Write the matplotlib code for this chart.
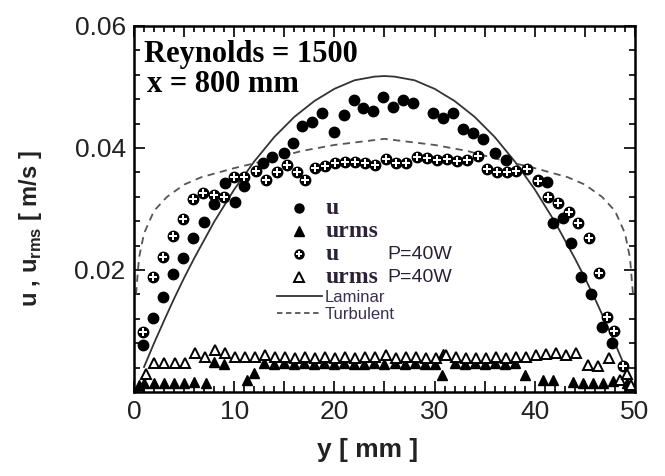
import numpy as np
import matplotlib
matplotlib.use("Agg")
import matplotlib.pyplot as plt
from matplotlib.ticker import MultipleLocator, FuncFormatter
from matplotlib.lines import Line2D
from matplotlib.legend_handler import HandlerTuple

plt.rcParams['font.family'] = ['Liberation Sans', 'DejaVu Sans']
plt.rcParams['mathtext.fontset'] = 'custom'
plt.rcParams['mathtext.bf'] = 'Liberation Sans:bold'
plt.rcParams['mathtext.rm'] = 'Liberation Sans'

# u, filled circles
u_y = [0.9, 1.9, 2.9, 3.9, 4.9, 5.9, 7.0, 8.0, 9.1, 10.1, 11.0, 12.9, 13.8, 15.0,
       15.9, 16.8, 17.8, 18.8, 20.0, 21.0, 22.0, 22.9, 23.9, 24.9, 25.8, 26.8, 27.8,
       29.8, 30.8, 31.8, 32.8, 33.8, 34.8, 36.0, 37.1, 40.3, 41.2, 41.8, 42.8, 43.6,
       44.6, 45.6, 46.7, 47.7]
u_v = [0.0077, 0.0122, 0.0156, 0.0193, 0.0219, 0.0253, 0.0279, 0.0309, 0.0343, 0.0312,
       0.0338, 0.0375, 0.0385, 0.0392, 0.0408, 0.0436, 0.0443, 0.0457, 0.0427, 0.0454,
       0.0478, 0.0465, 0.0461, 0.0484, 0.0467, 0.0478, 0.0474, 0.0457, 0.0449, 0.0457,
       0.0431, 0.0424, 0.0414, 0.0392, 0.0381, 0.0347, 0.0345, 0.0277, 0.0285, 0.0244,
       0.0189, 0.0161, 0.0107, 0.0080]

# urms, filled triangles
urms_y = [0.5, 1.0, 2.0, 3.0, 4.0, 5.0, 6.0, 7.2, 8.0, 9.0, 11.3, 12.0,
          13.0, 14.0, 15.0, 16.0, 17.0, 18.0, 19.0, 20.0, 21.0, 22.0, 23.0, 24.0,
          25.0, 26.0, 27.0, 28.0, 29.0, 30.0, 30.8, 30.7, 32.0, 33.0, 34.0, 35.0,
          36.0, 37.0, 38.0, 39.0, 40.8, 41.8, 43.8, 44.8, 45.8, 46.8, 47.8, 49.2]
urms_v = [0.0012, 0.0015, 0.0015, 0.0015, 0.0015, 0.0015, 0.0016, 0.0015, 0.0049, 0.0046,
          0.0020, 0.0031, 0.0047, 0.0046, 0.0047, 0.0046, 0.0047, 0.0046, 0.0047, 0.0046,
          0.0047, 0.0046, 0.0046, 0.0047, 0.0046, 0.0047, 0.0046, 0.0047, 0.0046, 0.0046,
          0.0062, 0.0028, 0.0047, 0.0046, 0.0047, 0.0046, 0.0047, 0.0046, 0.0047, 0.0028,
          0.0020, 0.0020, 0.0016, 0.0015, 0.0015, 0.0015, 0.0018, 0.0015]

# u with P=40W, open markers
up_y = [0.9, 1.9, 2.9, 3.9, 4.9, 5.9, 6.9, 8.0, 9.0, 10.0, 11.0, 12.2, 13.2, 14.3,
        15.3, 16.3, 17.1, 18.1, 19.1, 20.1, 21.1, 22.1, 23.1, 24.1, 25.1, 26.1, 27.1,
        28.2, 29.2, 30.2, 31.2, 32.2, 33.2, 34.3, 35.2, 36.2, 37.2, 38.1, 39.2, 40.3,
        41.3, 42.3, 43.4, 44.3, 45.4, 46.4, 47.2, 47.9, 48.8]
up_v = [0.0098, 0.0188, 0.0221, 0.0256, 0.0284, 0.0316, 0.0326, 0.0323, 0.0320, 0.0352,
        0.0352, 0.0362, 0.0348, 0.0360, 0.0372, 0.0360, 0.0348, 0.0367, 0.0371, 0.0375,
        0.0377, 0.0377, 0.0375, 0.0372, 0.0382, 0.0375, 0.0375, 0.0385, 0.0384, 0.0380,
        0.0382, 0.0379, 0.0380, 0.0387, 0.0366, 0.0360, 0.0360, 0.0362, 0.0366, 0.0346,
        0.0320, 0.0310, 0.0295, 0.0277, 0.0252, 0.0195, 0.0123, 0.0100, 0.0043]

# urms with P=40W, open triangles
urmsp_y = [1.2, 2.0, 3.0, 4.1, 5.1, 6.1, 7.1, 8.1, 9.1, 10.1, 11.1, 12.1, 13.1, 14.1,
           15.1, 16.1, 17.1, 18.1, 19.1, 20.1, 21.1, 22.1, 23.1, 24.1, 25.1, 26.1, 27.1,
           28.1, 29.1, 30.1, 31.1, 32.1, 33.1, 34.1, 35.1, 36.1, 37.1, 38.1, 39.1, 40.1,
           41.1, 42.1, 43.1, 44.1, 45.3, 46.3, 47.4, 48.5, 49.2, 49.6]
urmsp_v = [0.0030, 0.0047, 0.0047, 0.0047, 0.0047, 0.0064, 0.0057, 0.0069, 0.0064, 0.0058,
           0.0058, 0.0058, 0.0060, 0.0057, 0.0058, 0.0056, 0.0057, 0.0056, 0.0057, 0.0056,
           0.0057, 0.0056, 0.0058, 0.0057, 0.0060, 0.0056, 0.0057, 0.0058, 0.0056, 0.0055,
           0.0060, 0.0057, 0.0056, 0.0055, 0.0056, 0.0057, 0.0056, 0.0057, 0.0058, 0.0060,
           0.0062, 0.0064, 0.0061, 0.0064, 0.0045, 0.0042, 0.0056, 0.0020, 0.0030, 0.0012]

# laminar profile
lam_y = [1.0, 2.0, 3.0, 4.0, 5.0, 6.0, 8.0, 10.0, 12.0, 14.0, 16.0, 18.0, 20.0, 22.0,
         24.0, 25.0, 26.0, 28.0, 30.0, 32.0, 34.0, 36.0, 38.0, 40.0, 42.0, 44.0, 45.0,
         46.0, 47.0, 48.0, 49.0]
lam_v = [0.0041, 0.0080, 0.0117, 0.0153, 0.0187, 0.0219, 0.0279, 0.0332, 0.0378, 0.0418,
         0.0451, 0.0477, 0.0497, 0.0511, 0.0517, 0.0518, 0.0517, 0.0511, 0.0497, 0.0477,
         0.0451, 0.0418, 0.0378, 0.0332, 0.0279, 0.0219, 0.0187, 0.0153, 0.0117, 0.0080,
         0.0041]

# turbulent profile
turb_y = [0.2, 0.5, 1.0, 2.0, 3.3, 5.0, 6.7, 10.0, 13.3, 16.7, 20.0, 22.5, 25.0, 27.5,
          30.0, 33.3, 36.7, 40.0, 43.3, 45.0, 46.7, 48.0, 49.0, 49.5, 49.8]
turb_v = [0.0160, 0.0220, 0.0260, 0.0297, 0.0320, 0.0340, 0.0352, 0.0367, 0.0380, 0.0395,
          0.0405, 0.0410, 0.0415, 0.0410, 0.0405, 0.0395, 0.0380, 0.0367, 0.0352, 0.0340,
          0.0320, 0.0297, 0.0260, 0.0220, 0.0160]

fig = plt.figure(figsize=(6.65, 4.76), dpi=100)
ax = fig.add_axes([134 / 665, 1 - 392 / 476, 501 / 665, 366 / 476])

ax.plot(lam_y, lam_v, '-', color='#333333', lw=1.3, zorder=2)
ax.plot(turb_y, turb_v, '--', color='#555555', lw=1.3, dashes=(4, 3), zorder=2)

ms = 7.5
ax.plot(urms_y, urms_v, '^', color='black', ms=ms, ls='none', zorder=3)
ax.plot(urmsp_y, urmsp_v, '^', mfc='white', mec='black', mew=1.4, ms=ms, ls='none', zorder=4)
ax.plot(u_y, u_v, 'o', color='black', ms=ms, ls='none', zorder=5)
# open marker: dark ring with a white cross inside
ax.plot(up_y, up_v, 'o', color='black', ms=ms, ls='none', zorder=5)
ax.plot(up_y, up_v, 'P', color='white', mew=0, ms=ms * 0.68, ls='none', zorder=6)

ax.set_xlim(0, 50)
ax.set_ylim(0, 0.06)
ax.xaxis.set_major_locator(MultipleLocator(5))
ax.xaxis.set_minor_locator(MultipleLocator(1))
ax.yaxis.set_major_locator(MultipleLocator(0.02))
ax.yaxis.set_minor_locator(MultipleLocator(0.004))
ax.xaxis.set_major_formatter(FuncFormatter(lambda v, p: '%d' % v if v % 10 == 0 else ''))
ax.yaxis.set_major_formatter(FuncFormatter(lambda v, p: '' if v == 0 else '%.2f' % v))
ax.tick_params(which='both', direction='in', top=True, right=True, width=1.2)
ax.tick_params(which='major', length=8, labelsize=19, pad=6, labelcolor='#222222')
ax.tick_params(which='minor', length=4)
for s in ax.spines.values():
    s.set_linewidth(1.8)

ax.set_xlabel('y [ mm ]', fontsize=19, fontweight='bold', color='#222222')
ax.xaxis.set_label_coords(0.467, -0.125)
ax.set_ylabel(r'u , u$_\mathbf{rms}$ [ m/s ]', fontsize=17, fontweight='bold', color='#222222')
ax.yaxis.set_label_coords(-0.18, 0.445)

ax.text(0.02, 0.922, 'Reynolds = 1500', transform=ax.transAxes, family='Liberation Serif',
        fontweight='bold', fontsize=22, va='center')
ax.text(0.025, 0.84, 'x = 800 mm', transform=ax.transAxes, family='Liberation Serif',
        fontweight='bold', fontsize=22, va='center')

lms = 6.5
handles = [
    Line2D([], [], marker='o', color='black', ls='none', ms=lms),
    Line2D([], [], marker='^', color='black', ls='none', ms=lms),
    (Line2D([], [], marker='o', color='black', ls='none', ms=lms),
     Line2D([], [], marker='P', color='white', mew=0, ls='none', ms=lms * 0.68)),
    Line2D([], [], marker='^', mfc='white', mec='black', mew=1.4, ls='none', ms=lms),
    Line2D([], [], color='#333333', lw=1.3),
    Line2D([], [], color='#555555', lw=1.3, ls='--', dashes=(3, 2)),
]
labels = ['u', 'urms', 'u', 'urms', 'Laminar', 'Turbulent']
leg = ax.legend(handles, labels, loc='upper left', bbox_to_anchor=(0.285, 0.53),
                frameon=False, fontsize=12, handlelength=2.7, handletextpad=0.2,
                labelspacing=0.12, borderpad=0, borderaxespad=0,
                handler_map={tuple: HandlerTuple(ndivide=1, pad=0)})
for t in leg.get_texts()[:4]:
    t.set_family('Liberation Serif')
    t.set_fontweight('bold')
    t.set_fontsize(17)
    t.set_color('#2b2238')
for t in leg.get_texts()[4:]:
    t.set_color('#3a3050')

fig.canvas.draw()
inv = ax.transAxes.inverted()
for t in leg.get_texts()[2:4]:
    bb = t.get_window_extent()
    x0, y0 = inv.transform((bb.x0, (bb.y0 + bb.y1) / 2))
    ax.text(x0 + 0.125, y0, 'P=40W', transform=ax.transAxes, fontsize=14,
            va='center', color='#2b2238')

fig.savefig('out.png', dpi=100)
